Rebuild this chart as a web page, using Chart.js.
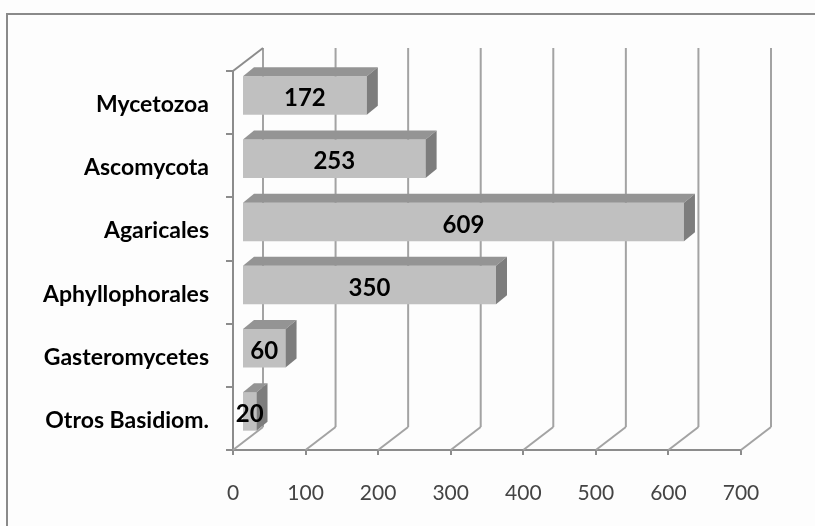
<!DOCTYPE html>
<html>
<head>
<meta charset="utf-8">
<script src="https://cdn.jsdelivr.net/npm/chart.js@4.4.1/dist/chart.umd.min.js"></script>
<style>
  html, body { margin: 0; padding: 0; background: #ffffff; }
  #wrap { width: 815px; height: 526px; }
</style>
</head>
<body>
<div id="wrap"><canvas id="c" width="815" height="526"></canvas></div>
<script>
// ---- data ----
const categories = ['Mycetozoa', 'Ascomycota', 'Agaricales', 'Aphyllophorales', 'Gasteromycetes', 'Otros Basidiom.'];
const counts = [172, 253, 609, 350, 60, 20];
const axisMin = 0;
const axisMax = 700;
const axisStep = 100;

// ---- styling ----
const FONT = "Lato, 'Noto Sans', sans-serif";
const FRAME = '#8c8c8c';
const GRID = '#a3a3a3';
const WALL = { dx: 30, dy: -23 };     // full depth of the 3D box
const BAR_SHIFT = { dx: 9, dy: -7 };  // bar front face inside the box
const BAR_DEPTH = { dx: 11, dy: -9 }; // thickness of each bar

const threeD = {
  id: 'threeD',
  beforeDraw(chart) {
    const ctx = chart.ctx;
    ctx.save();
    ctx.fillStyle = '#fdfdfd';
    ctx.fillRect(0, 0, chart.width, chart.height);
    ctx.strokeStyle = '#8a8a8a';
    ctx.lineWidth = 2;
    ctx.strokeRect(7, 14, chart.width + 20, chart.height + 20);
    ctx.restore();
  },
  beforeDatasetsDraw(chart) {
    const ctx = chart.ctx;
    const xs = chart.scales.x;
    const area = chart.chartArea;
    ctx.save();
    ctx.lineWidth = 2;
    // back wall gridlines and floor diagonals
    xs.ticks.forEach(t => {
      const px = xs.getPixelForValue(t.value);
      ctx.strokeStyle = GRID;
      ctx.beginPath();
      ctx.moveTo(px + WALL.dx, area.top + WALL.dy);
      ctx.lineTo(px + WALL.dx, area.bottom + WALL.dy);
      ctx.stroke();
      ctx.beginPath();
      ctx.moveTo(px, area.bottom);
      ctx.lineTo(px + WALL.dx, area.bottom + WALL.dy);
      ctx.stroke();
    });
    // left wall top edge
    ctx.strokeStyle = FRAME;
    ctx.beginPath();
    ctx.moveTo(area.left, area.top);
    ctx.lineTo(area.left + WALL.dx, area.top + WALL.dy);
    ctx.stroke();
    ctx.restore();
    ctx.save();
    ctx.translate(BAR_SHIFT.dx, BAR_SHIFT.dy);
  },
  afterDatasetsDraw(chart) {
    const ctx = chart.ctx;
    const meta = chart.getDatasetMeta(0);
    meta.data.forEach((bar, i) => {
      const p = bar.getProps(['x', 'y', 'base', 'height'], true);
      const top = p.y - p.height / 2;
      const bot = p.y + p.height / 2;
      // top face
      ctx.fillStyle = '#949494';
      ctx.beginPath();
      ctx.moveTo(p.base, top);
      ctx.lineTo(p.x, top);
      ctx.lineTo(p.x + BAR_DEPTH.dx, top + BAR_DEPTH.dy);
      ctx.lineTo(p.base + BAR_DEPTH.dx, top + BAR_DEPTH.dy);
      ctx.closePath();
      ctx.fill();
      // side face
      ctx.fillStyle = '#7d7d7d';
      ctx.beginPath();
      ctx.moveTo(p.x, top);
      ctx.lineTo(p.x + BAR_DEPTH.dx, top + BAR_DEPTH.dy);
      ctx.lineTo(p.x + BAR_DEPTH.dx, bot + BAR_DEPTH.dy);
      ctx.lineTo(p.x, bot);
      ctx.closePath();
      ctx.fill();
      // value label
      ctx.fillStyle = '#000000';
      ctx.font = 'bold 24px ' + FONT;
      ctx.textAlign = 'center';
      ctx.textBaseline = 'middle';
      ctx.fillText(String(counts[i]), (p.base + p.x) / 2, p.y + 3);
    });
    ctx.restore();
  }
};

new Chart(document.getElementById('c'), {
  type: 'bar',
  data: {
    labels: categories,
    datasets: [{
      data: counts,
      backgroundColor: '#c0c0c0',
      borderWidth: 0,
      barPercentage: 0.61,
      categoryPercentage: 1.0
    }]
  },
  options: {
    indexAxis: 'y',
    responsive: false,
    animation: false,
    devicePixelRatio: 1,
    layout: { padding: { top: 71, right: 74, left: 0, bottom: 0 } },
    plugins: {
      legend: { display: false },
      tooltip: { enabled: false },
      title: { display: false }
    },
    scales: {
      x: {
        min: axisMin,
        max: axisMax,
        ticks: {
          stepSize: axisStep,
          color: '#444444',
          font: { family: FONT, size: 21, weight: 'normal' },
          padding: 26
        },
        grid: { drawOnChartArea: false, drawTicks: true, tickLength: 5, color: FRAME, lineWidth: 2 },
        border: { display: true, color: FRAME, width: 2 },
        afterFit(s) { s.height = 76; }
      },
      y: {
        offset: true,
        ticks: {
          color: '#000000',
          font: { family: FONT, size: 23, weight: 'bold' },
          padding: 17,
          labelOffset: 2
        },
        grid: { offset: true, drawOnChartArea: false, drawTicks: true, tickLength: 7, color: FRAME, lineWidth: 2 },
        border: { display: true, color: FRAME, width: 2 },
        afterFit(s) { s.width = 233; }
      }
    }
  },
  plugins: [threeD]
});
</script>
</body>
</html>
